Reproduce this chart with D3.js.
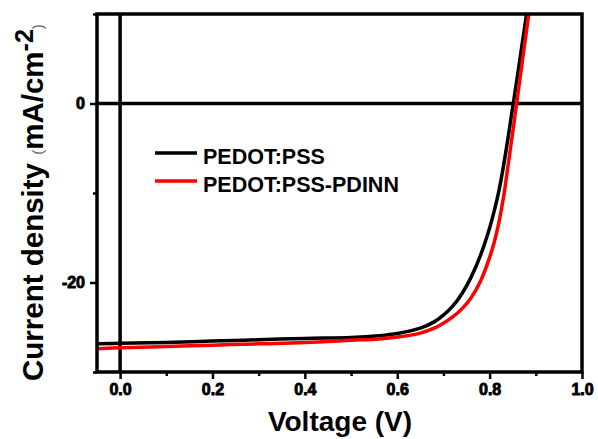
<!DOCTYPE html>
<html>
<head>
<meta charset="utf-8">
<script src="https://cdn.jsdelivr.net/npm/d3@7"></script>
<style>
html,body{margin:0;padding:0;background:#fff;}
svg{display:block;font-family:"Liberation Sans",Arial,sans-serif;}
</style>
</head>
<body>
<svg id="chart" width="598" height="439"></svg>
<script>
// ---- data ----
const voltage = [-0.05, 0.0, 0.1, 0.2, 0.3, 0.4, 0.5, 0.56, 0.60, 0.65, 0.68, 0.70, 0.72, 0.74, 0.76, 0.78, 0.80, 0.81, 0.82, 0.83, 0.84, 0.85, 0.86, 0.87, 0.88, 0.89];
const jPedot = [-26.85, -26.8, -26.7, -26.55, -26.4, -26.25, -26.15, -25.95, -25.7, -25.1, -24.4, -23.65, -22.65, -21.25, -19.4, -17.0, -13.9, -12.0, -9.8, -7.0, -3.8, -0.4, 3.0, 6.5, 10.0, 13.5];
const jPdinn = [-27.4, -27.3, -27.15, -27.0, -26.85, -26.7, -26.45, -26.3, -26.1, -25.65, -25.1, -24.55, -23.85, -22.95, -21.7, -19.9, -17.2, -15.5, -13.3, -10.5, -6.9, -3.2, 0.6, 4.4, 8.2, 12.0];
const seriesNames = ["PEDOT:PSS", "PEDOT:PSS-PDINN"];
const seriesColors = ["#000000", "#ff0000"];
const xMajorTicks = [0.0, 0.2, 0.4, 0.6, 0.8, 1.0];
const xMinorTicks = [0.1, 0.3, 0.5, 0.7, 0.9];
const yMajorTicks = [0, -20];
const yMinorTicks = [10, -10, -30];

// ---- layout ----
const svg = d3.select("#chart");
const L = 97, R = 582, T = 14, B = 372;
const x = d3.scaleLinear().domain([-0.05, 1.0]).range([L, R]);
const y = d3.scaleLinear().domain([-30, 10]).range([B, T]);

svg.append("defs").append("clipPath").attr("id", "clip")
  .append("rect").attr("x", L).attr("y", T).attr("width", R - L).attr("height", B - T);

// zero lines
svg.append("line").attr("x1", x(0)).attr("x2", x(0)).attr("y1", T).attr("y2", B)
  .attr("stroke", "#000").attr("stroke-width", 3.5);
svg.append("line").attr("x1", L).attr("x2", R).attr("y1", y(0)).attr("y2", y(0))
  .attr("stroke", "#000").attr("stroke-width", 3.5);

// curves
const line = d3.line().x(d => x(d[0])).y(d => y(d[1])).curve(d3.curveCatmullRom.alpha(0.5));
const series = [jPedot, jPdinn];
const g = svg.append("g").attr("clip-path", "url(#clip)");
series.forEach((s, i) => {
  g.append("path").datum(voltage.map((v, k) => [v, s[k]]))
    .attr("d", line).attr("fill", "none")
    .attr("stroke", seriesColors[i]).attr("stroke-width", 3.5)
    .attr("stroke-linejoin", "round");
});

// axes
const xAxis = d3.axisBottom(x).tickValues(xMajorTicks).tickFormat(d3.format(".1f")).tickSize(7).tickPadding(5);
const xMinor = d3.axisBottom(x).tickValues(xMinorTicks).tickFormat("").tickSize(4);
const yAxis = d3.axisLeft(y).tickValues(yMajorTicks).tickFormat(d => String(d)).tickSize(7).tickPadding(5);
const yMinor = d3.axisLeft(y).tickValues(yMinorTicks).tickFormat("").tickSize(4);

function styleAxis(sel) {
  sel.attr("font-family", '"Liberation Sans", Arial, sans-serif')
     .attr("font-size", 16).attr("font-weight", "bold");
  sel.select(".domain").remove();
  sel.selectAll(".tick line").attr("stroke", "#000").attr("stroke-width", 2.5);
  sel.selectAll(".tick text").attr("fill", "#000")
    .attr("stroke", "#000").attr("stroke-width", 0.9)
    .style("font-size", "16px").style("font-weight", "700");
}
svg.append("g").attr("transform", `translate(0,${B})`).call(xAxis).call(styleAxis);
svg.append("g").attr("transform", `translate(0,${B})`).call(xMinor).call(styleAxis);
svg.append("g").attr("transform", `translate(${L},0)`).call(yAxis).call(styleAxis);
svg.append("g").attr("transform", `translate(${L},0)`).call(yMinor).call(styleAxis);

// frame
svg.append("rect").attr("x", L).attr("y", T).attr("width", R - L).attr("height", B - T)
  .attr("fill", "none").attr("stroke", "#000").attr("stroke-width", 3.5);

// axis titles
svg.append("text").attr("x", 340).attr("y", 431).attr("text-anchor", "middle")
  .style("font-size", "28px").style("font-weight", "bold").text("Voltage (V)");

const yl = svg.append("text").attr("transform", "translate(43,381) rotate(-90)")
  .attr("x", 0).attr("y", 0).style("font-size", "29.5px").style("font-weight", "bold");
yl.append("tspan").text("Current density ");
yl.append("tspan").style("font-weight", "normal").style("font-size", "15px").attr("fill", "#666").text("(");
yl.append("tspan").text("mA/cm");
yl.append("tspan").attr("dy", -10).style("font-size", "25px").text("-2");
yl.append("tspan").attr("dy", 10).style("font-weight", "normal").style("font-size", "15px").attr("fill", "#666").text(")");

// legend
const legY = [153, 181];
seriesNames.forEach((n, i) => {
  svg.append("line").attr("x1", 155).attr("x2", 197).attr("y1", legY[i]).attr("y2", legY[i])
    .attr("stroke", seriesColors[i]).attr("stroke-width", 3.5);
  svg.append("text").attr("x", 203).attr("y", legY[i] + 5.5)
    .attr("dominant-baseline", "middle")
    .style("font-size", "21.5px").style("font-weight", "bold").text(n);
});
</script>
</body>
</html>
